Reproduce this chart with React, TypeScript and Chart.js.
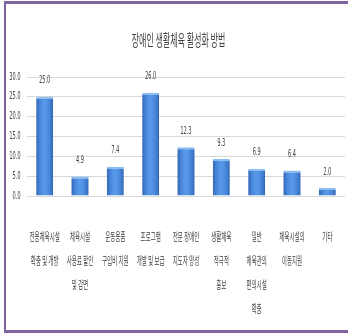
import React, { useEffect, useRef } from "react";
import { Chart, registerables } from "chart.js";

Chart.register(...registerables);

const chartTitle = "장애인 생활체육 활성화 방법";

const categories: string[][] = [
  ["전용체육시설", "확충 및 개방"],
  ["체육시설", "사용료 할인", "및 감면"],
  ["운동용품", "구입비 지원"],
  ["프로그램", "개발 및 보급"],
  ["전문 장애인", "지도자 양성"],
  ["생활체육", "적극적", "홍보"],
  ["일반", "체육관의", "편의시설", "확충"],
  ["체육시설의", "이동지원"],
  ["기타"],
];

const values: number[] = [25.0, 4.9, 7.4, 26.0, 12.3, 9.3, 6.9, 6.4, 2.0];

const yTicks: number[] = [0, 5, 10, 15, 20, 25, 30];

const W = 348;
const H = 333;
const SX = 0.5; // horizontal compression of the drawing (condensed look)
const IW = W / SX;

const TEXT = "#404040";
const GRID = "#D9D9D9";
const FRAME = "#8064A2";

const barGradient = {
  id: "barGradient",
  beforeDatasetsDraw(chart: any) {
    const { ctx } = chart;
    const meta = chart.getDatasetMeta(0);
    meta.data.forEach((bar: any) => {
      const x = bar.x;
      const w = bar.width;
      if (!isFinite(x) || !isFinite(w) || w <= 0) return;
      const g = ctx.createLinearGradient(x - w / 2, 0, x + w / 2, 0);
      g.addColorStop(0, "#3365B6");
      g.addColorStop(0.2, "#4784D8");
      g.addColorStop(0.45, "#5899EA");
      g.addColorStop(0.65, "#5192E4");
      g.addColorStop(0.9, "#3E78CA");
      g.addColorStop(1, "#3163B2");
      if (bar.options) bar.options.backgroundColor = g;
    });
  },
};

const valueLabels = {
  id: "valueLabels",
  afterDatasetsDraw(chart: any) {
    const { ctx } = chart;
    const meta = chart.getDatasetMeta(0);
    ctx.save();
    ctx.font = "10px 'DejaVu Sans'";
    ctx.fillStyle = TEXT;
    ctx.textAlign = "center";
    ctx.textBaseline = "middle";
    meta.data.forEach((bar: any, i: number) => {
      ctx.fillText(values[i].toFixed(1), bar.x, bar.y - 16);
    });
    ctx.restore();
  },
};

export default function App() {
  const ref = useRef<HTMLCanvasElement | null>(null);

  useEffect(() => {
    if (!ref.current) return;
    const chart = new Chart(ref.current, {
      type: "bar",
      data: {
        labels: categories,
        datasets: [
          {
            data: values,
            // scriptable so every bar gets its own options object
            backgroundColor: () => "#4A88DA",
            borderColor: "#8CBDF0",
            borderWidth: { top: 2, left: 0, right: 0, bottom: 0 },
            borderSkipped: "start",
            barPercentage: 0.8,
            categoryPercentage: 0.6,
          },
        ],
      },
      options: {
        responsive: false,
        animation: false,
        devicePixelRatio: 1,
        layout: { padding: { left: 18, right: 0, top: 0, bottom: 0 } },
        plugins: {
          legend: { display: false },
          tooltip: { enabled: false },
          title: {
            display: true,
            text: chartTitle,
            color: TEXT,
            font: { family: "'Noto Sans CJK KR'", size: 16, weight: "normal", lineHeight: 1.2 },
            padding: { top: 30, bottom: 27.8 },
          },
        },
        scales: {
          x: {
            grid: { display: false },
            border: { display: false },
            ticks: {
              autoSkip: false,
              maxRotation: 0,
              minRotation: 0,
              padding: 21,
              color: TEXT,
              font: { family: "'Noto Sans CJK KR'", size: 11, lineHeight: "24px" },
            },
            afterFit: (s: any) => {
              s.height = 137;
            },
          },
          y: {
            min: yTicks[0],
            max: yTicks[yTicks.length - 1],
            grid: { color: GRID, lineWidth: 1, drawTicks: false },
            border: { display: false },
            ticks: {
              stepSize: yTicks[1] - yTicks[0],
              padding: 13,
              color: TEXT,
              font: { family: "'DejaVu Sans'", size: 10 },
              callback: (v: any) => Number(v).toFixed(1),
            },
            afterFit: (s: any) => {
              s.width = 36;
            },
          },
          spacer: {
            type: "linear",
            position: "right",
            display: true,
            grid: { display: false, drawTicks: false },
            border: { display: false },
            ticks: { display: false },
            afterFit: (s: any) => {
              s.width = 6;
            },
          },
        },
      },
      plugins: [barGradient, valueLabels],
    });
    return () => chart.destroy();
  }, []);

  return (
    <div
      style={{
        position: "absolute",
        left: 0,
        top: 0,
        width: W,
        height: H,
        background: "#fff",
        overflow: "hidden",
      }}
    >
      <canvas
        ref={ref}
        width={IW}
        height={H}
        style={{ width: W + "px", height: H + "px", display: "block" }}
      />
      <div
        style={{
          position: "absolute",
          left: 4,
          top: 1,
          width: W - 4,
          height: H - 1,
          boxSizing: "border-box",
          borderTop: `3px solid ${FRAME}`,
          borderLeft: `2px solid ${FRAME}`,
          borderBottom: `3px solid ${FRAME}`,
          pointerEvents: "none",
        }}
      />
    </div>
  );
}
